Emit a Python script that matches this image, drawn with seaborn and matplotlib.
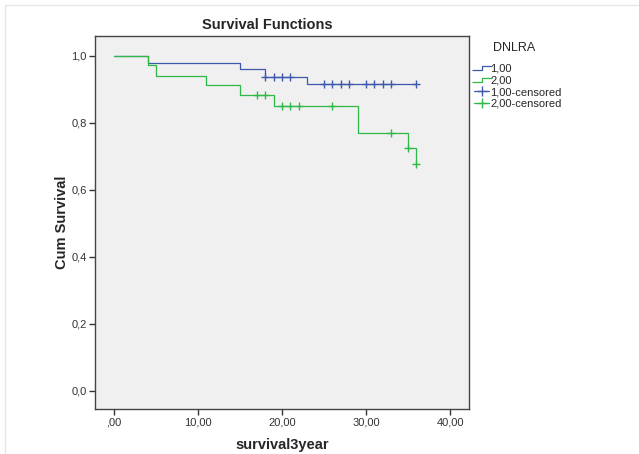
import numpy as np
import pandas as pd
import matplotlib
matplotlib.use("Agg")
import matplotlib.pyplot as plt
import seaborn as sns
from matplotlib.lines import Line2D
from matplotlib.path import Path

# step points of each Kaplan-Meier curve
time_g1 = [0, 4, 15, 18, 23, 36]
surv_g1 = [1.0, 0.979, 0.959, 0.937, 0.916, 0.916]
cens_g1 = [18, 19, 20, 21, 25, 26, 27, 28, 30, 31, 32, 33, 36]

time_g2 = [0, 4, 5, 11, 15, 19, 29, 35, 36]
surv_g2 = [1.0, 0.971, 0.941, 0.913, 0.884, 0.850, 0.768, 0.724, 0.676]
cens_g2 = [17, 18, 20, 21, 22, 26, 33, 35, 36]

groups = ["1,00", "2,00"]
colors = ["#3e58ac", "#2eb848"]
x_ticks = [0, 10, 20, 30, 40]
x_labels = [",00", "10,00", "20,00", "30,00", "40,00"]
y_ticks = [0.0, 0.2, 0.4, 0.6, 0.8, 1.0]
y_labels = ["0,0", "0,2", "0,4", "0,6", "0,8", "1,0"]


def censor_points(times, surv, cens):
    # survival level at each censored time (right-continuous step)
    idx = np.searchsorted(times, cens, side="right") - 1
    return np.asarray(surv)[idx]


sns.set_style("white")
plt.rcParams["font.family"] = ["Liberation Sans", "DejaVu Sans"]

fig = plt.figure(figsize=(6.39, 4.54), dpi=100)
ax = fig.add_axes([0.1487, 0.0991, 0.5853, 0.8216])
ax.set_facecolor("#f0f0f0")

# faint outer frame like the exported SPSS chart
fig.add_artist(Line2D([5 / 639, 5 / 639], [0, 1 - 5 / 454], color="#e6e6e6", lw=1))
fig.add_artist(Line2D([5 / 639, 1], [1 - 5 / 454, 1 - 5 / 454], color="#e6e6e6", lw=1))

curves = [(time_g1, surv_g1, cens_g1), (time_g2, surv_g2, cens_g2)]
for (t, s, c), g, col in zip(curves, groups, colors):
    df = pd.DataFrame({"time": t, "surv": s})
    sns.lineplot(data=df, x="time", y="surv", ax=ax, color=col, lw=0.9,
                 drawstyle="steps-post", estimator=None, sort=False)
    cdf = pd.DataFrame({"time": c, "surv": censor_points(t, s, c)})
    sns.scatterplot(data=cdf, x="time", y="surv", ax=ax, color=col,
                    marker="+", s=40, linewidth=1.0, zorder=3)

ax.set_xlim(-2.26, 42.26)
ax.set_ylim(-0.055, 1.059)
ax.set_xticks(x_ticks)
ax.set_xticklabels(x_labels)
ax.set_yticks(y_ticks)
ax.set_yticklabels(y_labels)
ax.tick_params(axis="both", direction="out", length=4, width=1,
               color="#333333", labelsize=8, labelcolor="#333333", pad=2)
ax.xaxis.set_ticks_position("bottom")
ax.yaxis.set_ticks_position("left")
for sp in ax.spines.values():
    sp.set_color("#444444")
    sp.set_linewidth(1.0)

ax.set_xlabel("survival3year", fontsize=10.5, fontweight="bold", labelpad=8)
ax.set_ylabel("Cum Survival", fontsize=10.5, fontweight="bold", labelpad=2)
fig.text(267 / 639, 1 - 25 / 454, "Survival Functions", ha="center",
         va="center", fontsize=10.5, fontweight="bold")

# legend handles: small step glyph for curves, line with + for censored
step_marker = Path([(-1, -0.25), (0, -0.25), (0, 0.25), (1, 0.25)])
handles = [
    Line2D([], [], ls="none", marker=step_marker, markersize=14,
           markerfacecolor="none", markeredgecolor=colors[0], markeredgewidth=0.9),
    Line2D([], [], ls="none", marker=step_marker, markersize=14,
           markerfacecolor="none", markeredgecolor=colors[1], markeredgewidth=0.9),
    Line2D([], [], color=colors[0], lw=0.9, marker="+", markersize=7),
    Line2D([], [], color=colors[1], lw=0.9, marker="+", markersize=7),
]
labels = ["1,00", "2,00", "1,00-censored", "2,00-censored"]
fig.text(514 / 639, 1 - 48 / 454, "DNLRA", ha="center", va="center", fontsize=9)
leg = fig.legend(handles, labels, loc="upper left",
                 bbox_to_anchor=(466 / 639, 1 - 56 / 454), frameon=False,
                 fontsize=8, handlelength=1.4,
                 handletextpad=0.1, labelspacing=0.15, borderpad=0.2)

fig.savefig("out.png", dpi=100)
